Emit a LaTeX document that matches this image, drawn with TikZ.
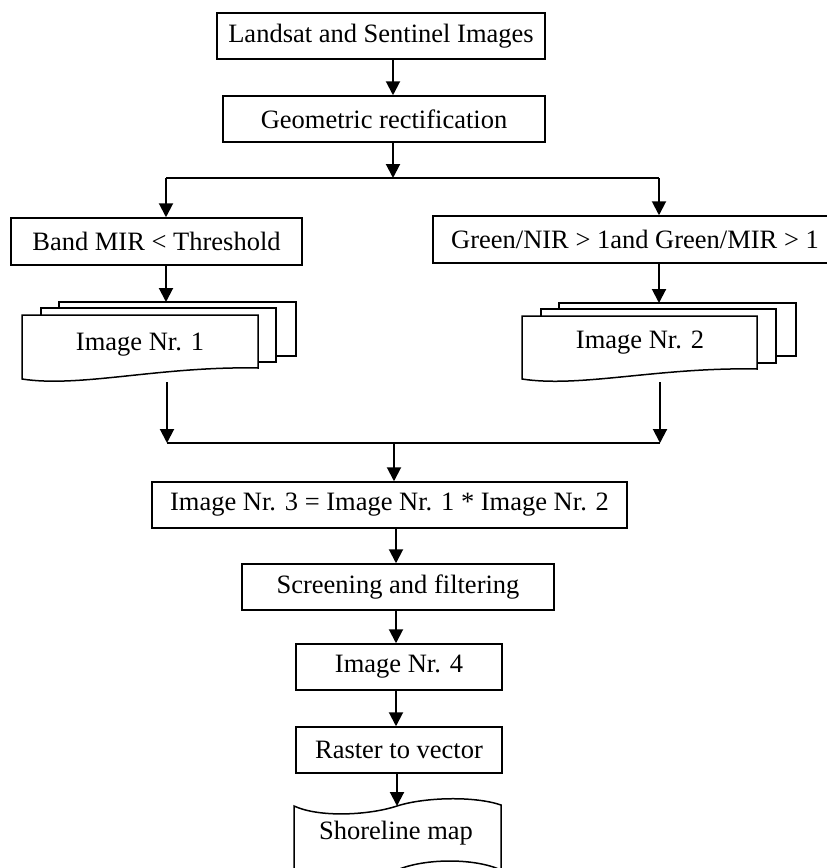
\documentclass[tikz,border=0pt]{standalone}
\usepackage{fontspec}
\setmainfont{Liberation Serif}
\usetikzlibrary{arrows.meta}
\begin{document}
\begin{tikzpicture}[x=1pt,y=-1pt,
  txt/.style={font=\fontsize{26.5}{30}\selectfont},
  box/.style={draw, line width=1.5pt, rectangle, inner sep=0pt, fill=white, txt},
  arr/.style={line width=2pt, -{Triangle[length=14pt,width=14pt]}},
  ln/.style={line width=2pt},
  pg/.style={draw, line width=1.5pt, fill=white, line join=miter},
  lbl/.style={inner sep=0pt, txt}]
\clip (0,0) rectangle (827,868);
\fill[white] (0,0) rectangle (827,868);
% boxes
\node[box, minimum width=328pt, minimum height=46pt] (b1) at (381,36) {Landsat and Sentinel Images};
\node[box, minimum width=322pt, minimum height=46pt] (b2) at (384,119) {Geometric rectification};
\node[box, minimum width=291pt, minimum height=47pt] (bl) at (156.5,241.5) {Band MIR < Threshold};
\node[box, minimum width=404pt, minimum height=47pt] (br) at (635,239.5) {Green/NIR > 1and Green/MIR > 1};
\node[box, minimum width=475pt, minimum height=46pt] (b3) at (389.5,505) {Image Nr. 3 = Image Nr. 1 * Image Nr. 2};
\node[box, minimum width=312pt, minimum height=46pt] (b4) at (398,587) {Screening and filtering};
\node[box, minimum width=206pt, minimum height=46pt] (b5) at (399,667) {Image Nr. 4};
\node[box, minimum width=206pt, minimum height=46pt] (b6) at (399,750) {Raster to vector};
% multi-documents
\draw[pg] (59,302) rectangle (296,356);
\draw[pg] (41,308) rectangle (276,362);
\draw[pg] (22,315) -- (258,315) -- (258,368) .. controls (160,366) and (80,388) .. (22,379) -- cycle;
\node[lbl] (d1) at (140,345) {Image Nr. 1};
\draw[pg] (559,303) rectangle (796,356);
\draw[pg] (541,309) rectangle (776,363);
\draw[pg] (522,316) -- (757,316) -- (757,369) .. controls (659,367) and (580,388) .. (522,379) -- cycle;
\node[lbl] (d2) at (640,343) {Image Nr. 2};
% tape
\draw[pg] (294,806) .. controls (320,818) and (370,815) .. (397,806) .. controls (425,797) and (475,796) .. (501,805) -- (501,870) .. controls (475,858) and (425,858) .. (397,870) .. controls (370,882) and (320,885) .. (294,874) -- cycle;
\node[lbl] (sh) at (396,833) {Shoreline map};
% coordinates
\coordinate (cA) at (393,0);
\coordinate (cB) at (396,0);
\coordinate (j1) at (393,178);
\coordinate (j1l) at (166,178);
\coordinate (j1r) at (659,178);
\coordinate (d1top) at (166,302);
\coordinate (d2top) at (659,303);
\coordinate (d1bot) at (167,382);
\coordinate (d2bot) at (660,382);
\coordinate (j2l) at (167,443);
\coordinate (j2r) at (660,443);
\coordinate (j2) at (394,443);
\coordinate (shtop) at (397,806);
% connectors
\draw[arr] (b1.south -| cA) -- (b2.north -| cA);
\draw[arr] (b2.south -| cA) -- (j1);
\draw[ln] (j1l) -- (j1r);
\draw[arr] (j1l) -- (bl.north -| j1l);
\draw[arr] (j1r) -- (br.north -| j1r);
\draw[arr] (bl.south -| d1top) -- (d1top);
\draw[arr] (br.south -| d2top) -- (d2top);
\draw[arr] (d1bot) -- (j2l);
\draw[arr] (d2bot) -- (j2r);
\draw[ln] (j2l) -- (j2r);
\draw[arr] (j2) -- (b3.north -| j2);
\draw[arr] (b3.south -| cB) -- (b4.north -| cB);
\draw[arr] (b4.south -| cB) -- (b5.north -| cB);
\draw[arr] (b5.south -| cB) -- (b6.north -| cB);
\draw[arr] (b6.south -| shtop) -- (shtop);
\end{tikzpicture}
\end{document}
